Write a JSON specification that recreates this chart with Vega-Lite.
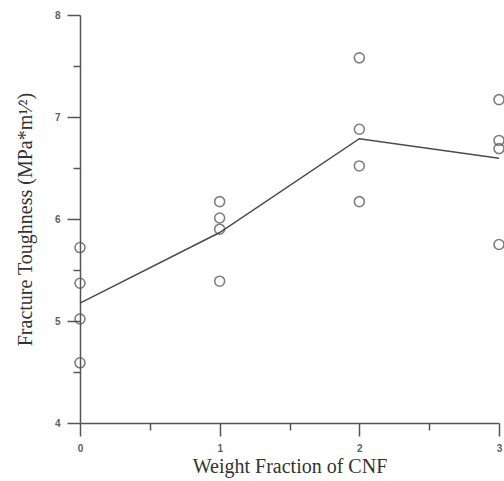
{
  "$schema": "https://vega.github.io/schema/vega-lite/v6.json",
  "width": 419,
  "height": 408,
  "autosize": "none",
  "padding": {"left": 80, "top": 15, "right": 5, "bottom": 58},
  "background": "white",
  "config": {"view": {"stroke": null}},
  "data": {
    "values": [
      {"wf": 0, "kic": 5.72}, {"wf": 0, "kic": 5.37}, {"wf": 0, "kic": 5.02}, {"wf": 0, "kic": 4.59},
      {"wf": 1, "kic": 6.17}, {"wf": 1, "kic": 6.01}, {"wf": 1, "kic": 5.90}, {"wf": 1, "kic": 5.39},
      {"wf": 2, "kic": 7.58}, {"wf": 2, "kic": 6.88}, {"wf": 2, "kic": 6.52}, {"wf": 2, "kic": 6.17},
      {"wf": 3, "kic": 7.17}, {"wf": 3, "kic": 6.77}, {"wf": 3, "kic": 6.69}, {"wf": 3, "kic": 5.75}
    ]
  },
  "resolve": {"axis": {"x": "independent", "y": "independent"}},
  "layer": [
    {
      "mark": {"type": "point", "shape": "circle", "size": 100, "strokeWidth": 1.6, "color": "#4a4a4a", "filled": false, "clip": false},
      "encoding": {
        "x": {
          "field": "wf", "type": "quantitative",
          "scale": {"domain": [0, 3], "nice": false, "zero": false},
          "axis": {
            "orient": "bottom", "values": [0, 1, 2, 3], "format": "d",
            "grid": false, "domainColor": "#555555", "domainWidth": 1.5,
            "tickColor": "#555555", "tickWidth": 1.5, "tickSize": 13,
            "labelFontSize": 10, "labelFontWeight": "bold", "labelFont": "Liberation Sans",
            "labelColor": "#556070", "labelPadding": 7, "labelFlush": false,
            "title": "Weight Fraction of CNF", "titleFont": "Liberation Serif",
            "titleFontSize": 20, "titleFontWeight": "normal", "titleColor": "#333333", "titlePadding": 3
          }
        },
        "y": {
          "field": "kic", "type": "quantitative",
          "scale": {"domain": [4, 8], "nice": false, "zero": false},
          "axis": {
            "orient": "left", "values": [4, 5, 6, 7, 8], "format": "d",
            "grid": false, "domainColor": "#555555", "domainWidth": 1.5,
            "tickColor": "#555555", "tickWidth": 1.5, "tickSize": 13,
            "labelFontSize": 10, "labelFontWeight": "bold", "labelFont": "Liberation Sans",
            "labelColor": "#556070", "labelPadding": 7, "labelFlush": false,
            "title": "Fracture Toughness (MPa*m¹⁄²)", "titleFont": "Liberation Serif",
            "titleFontSize": 20, "titleFontWeight": "normal", "titleColor": "#333333", "titlePadding": 19
          }
        }
      }
    },
    {
      "mark": {"type": "line", "color": "#4a4a4a", "strokeWidth": 1.5},
      "encoding": {
        "x": {
          "field": "wf", "type": "quantitative",
          "axis": {
            "orient": "bottom", "values": [0.5, 1.5, 2.5], "labels": false, "domain": false,
            "grid": false, "tickColor": "#555555", "tickWidth": 1.5, "tickSize": 7, "title": null
          }
        },
        "y": {
          "aggregate": "mean", "field": "kic", "type": "quantitative",
          "axis": {
            "orient": "left", "values": [4.5, 5.5, 6.5, 7.5], "labels": false, "domain": false,
            "grid": false, "tickColor": "#555555", "tickWidth": 1.5, "tickSize": 7, "title": null
          }
        }
      }
    }
  ]
}
